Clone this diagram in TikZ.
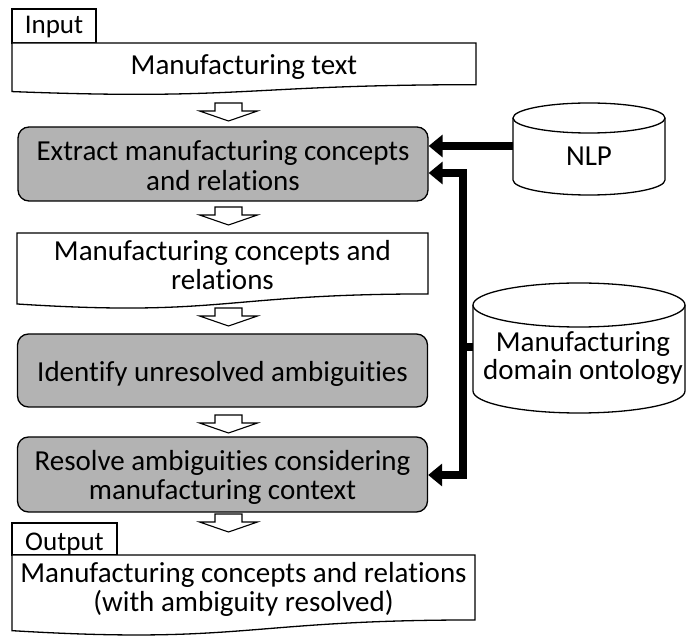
\documentclass[tikz,border=0pt]{standalone}
\usepackage{fontspec}
\setmainfont{Carlito}[Ligatures=NoCommon]
\usetikzlibrary{arrows.meta}
\definecolor{boxgray}{RGB}{179,179,179}
\begin{document}
\begin{tikzpicture}[x=1pt,y=-1pt,
  procbox/.style={draw=black,line width=1.3pt,fill=boxgray,rounded corners=11pt,inner sep=0pt,minimum width=410pt},
  plainbox/.style={draw=black,line width=1.3pt,fill=white,inner sep=0pt},
  docline/.style={draw=black,line width=1.3pt,fill=white},
  cyl/.style={draw=black,line width=1.3pt,fill=white},
  txt/.style={anchor=base,inner sep=0pt,font=\fontsize{29}{30}\selectfont},
  lbltxt/.style={anchor=base,inner sep=0pt,font=\fontsize{27}{30}\selectfont},
  conn/.style={line width=8pt,line join=miter,-{Triangle[width=22pt,length=14pt]}},
  hollowarrow/.pic={\draw[line width=1.1pt,fill=white] (-13.5,0) -- (13.5,0) -- (13.5,8) -- (29,8) -- (0,18) -- (-29,8) -- (-13.5,8) -- cycle;}
]
\useasboundingbox (0,0) rectangle (686,636);

% Input label and document
\node[plainbox,minimum width=84pt,minimum height=34pt] (inbox) at (54,26) {};
\node[lbltxt] (intxt) at (54,34) {Input};
\draw[docline] (12,43) -- (476,43) -- (476,{43+0.802*52}) .. controls (244,{43+0.802*52}) and (244,{43+1.1075*52}) .. (12,{43+0.934*52}) -- cycle;
\node[txt] (mtext) at (244,75) {Manufacturing text};

\pic at (228.5,103) {hollowarrow};

% Extract
\node[procbox,minimum height=74pt] (extract) at (223,164) {};
\node[txt] (ext1) at (223,161) {Extract manufacturing concepts};
\node[txt] (ext2) at (223,191) {and relations};

\pic at (228.5,207) {hollowarrow};

% Manufacturing concepts doc
\draw[docline] (17,233) -- (428,233) -- (428,{233+0.802*76}) .. controls (222.5,{233+0.802*76}) and (222.5,{233+1.1075*76}) .. (17,{233+0.934*76}) -- cycle;
\node[txt] (mc1) at (222.5,261) {Manufacturing concepts and};
\node[txt] (mc2) at (222.5,290) {relations};

\pic at (228.5,308) {hollowarrow};

% Identify
\node[procbox,minimum height=73pt] (identify) at (222.5,370.5) {};
\node[txt] (idt) at (222.5,381.5) {Identify unresolved ambiguities};

\pic at (228.5,415) {hollowarrow};

% Resolve
\node[procbox,minimum height=75pt] (resolve) at (222.5,474.5) {};
\node[txt] (res1) at (222.5,470.5) {Resolve ambiguities considering};
\node[txt] (res2) at (222.5,500) {manufacturing context};

\pic at (228.5,514) {hollowarrow};

% Output label and document
\node[plainbox,minimum width=105pt,minimum height=32pt] (outbox) at (64.5,539) {};
\node[lbltxt] (outtxt) at (64.5,550) {Output};
\draw[docline] (12,555) -- (475,555) -- (475,{555+0.802*81}) .. controls (243.5,{555+0.802*81}) and (243.5,{555+1.1075*81}) .. (12,{555+0.934*81}) -- cycle;
\node[txt] (out1) at (243.5,582) {Manufacturing concepts and relations};
\node[txt] (out2) at (243.5,611) {(with ambiguity resolved)};

% NLP cylinder
\draw[cyl] (513,118) -- (513,180) arc[start angle=180,end angle=0,x radius=76,y radius=15] -- (665,118);
\draw[cyl] (589,118) ellipse [x radius=76,y radius=15];
\node[txt] (nlp) at (589,166) {NLP};

% Ontology cylinder
\draw[cyl] (473,305) -- (473,391) arc[start angle=180,end angle=0,x radius=106,y radius=22] -- (685,305);
\draw[cyl] (579,305) ellipse [x radius=106,y radius=22];
\node[txt] (onto1) at (583,352) {Manufacturing};
\node[txt] (onto2) at (583,380) {domain ontology};

% connectors
\coordinate (nlpW) at (513,146);
\coordinate (ontoW) at (473,347);
\coordinate (J) at (463,347);
\coordinate (Jt) at (463,173);
\coordinate (Jb) at (463,475);
\draw[conn] (nlpW) -- (extract.east |- nlpW);
\draw[conn] (ontoW) -- (J) -- (Jt) -- (extract.east |- Jt);
\draw[conn] (J) -- (Jb) -- (resolve.east |- Jb);
\end{tikzpicture}
\end{document}
